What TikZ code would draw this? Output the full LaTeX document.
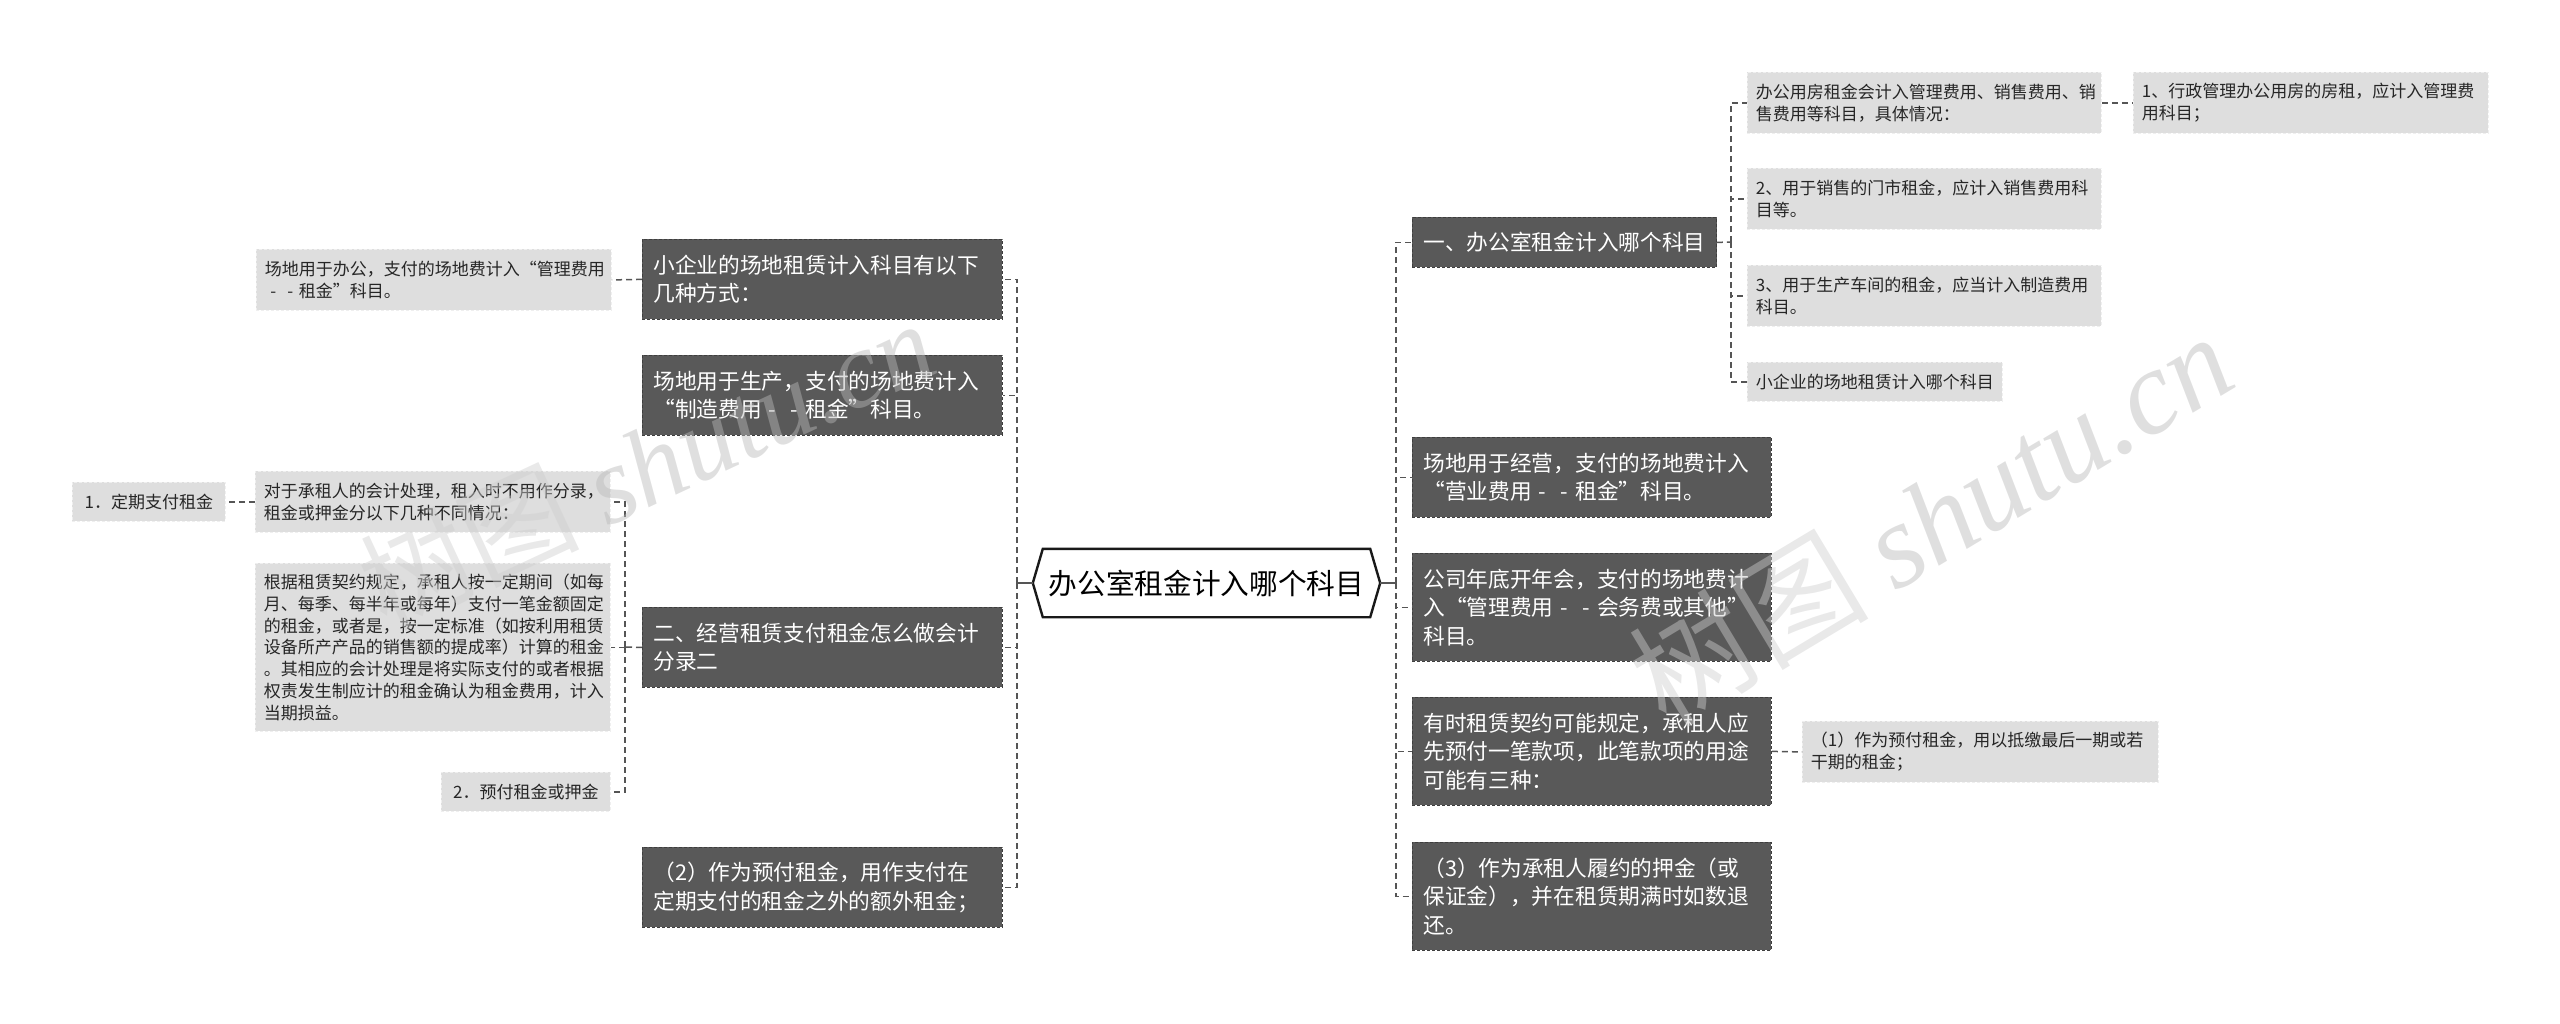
\documentclass[tikz,border=0pt]{standalone}
\usepackage{fontspec}
\setmainfont{Noto Sans CJK SC}
\newfontfamily\wmfont{Liberation Serif}
\usetikzlibrary{calc}
\definecolor{dkfill}{HTML}{595959}
\definecolor{dkedge}{HTML}{3F3F3F}
\definecolor{ltfill}{HTML}{DEDEDE}
\definecolor{ltedge}{HTML}{EFEFEF}
\definecolor{conncol}{HTML}{555555}
\definecolor{txt}{HTML}{262626}
\definecolor{wmcol}{HTML}{B9B9B9}
\newcommand{\fwdash}{\makebox[1em]{-}}
\tikzset{
  dark/.style={anchor=north west, fill=dkfill, draw=dkedge, line width=0.8pt, dash pattern=on 3pt off 2pt, text=white, inner xsep=11pt, inner ysep=0pt, font=\fontsize{21.7pt}{28.3pt}\selectfont, align=left},
  light/.style={anchor=north west, fill=ltfill, draw=ltedge, line width=0.8pt, dash pattern=on 3pt off 2pt, text=txt, inner xsep=8.5pt, inner ysep=0pt, font=\fontsize{17pt}{21.7pt}\selectfont, align=left},
  conn/.style={draw=conncol, line width=1.5pt, dash pattern=on 6pt off 4pt},
  stub/.style={draw=conncol, line width=1.5pt},
  wmark/.style={text=wmcol, opacity=0.45, inner sep=0pt}
}
\begin{document}
\begin{tikzpicture}[x=1pt,y=1pt]
\useasboundingbox (0,0) rectangle (2560,-1023);

% center
\node[font=\fontsize{28.7pt}{34pt}\selectfont, text=black, minimum width=347pt, minimum height=68pt, inner sep=0pt] (c) at (1206.5,-583) {办公室租金计入哪个科目};
\draw[line width=2.4pt, draw=black!90, line join=miter] (c.west) -- ([xshift=10pt]c.north west) -- ([xshift=-10pt]c.north east) -- (c.east) -- ([xshift=-10pt]c.south east) -- ([xshift=10pt]c.south west) -- cycle;

% left dark nodes
\node[dark, text width=338pt, minimum height=80pt] (n1) at (642,-239) {小企业的场地租赁计入科目有以下\\几种方式：};
\node[dark, text width=338pt, minimum height=80pt] (n2) at (642,-355) {场地用于生产，支付的场地费计入\\“制造费用\fwdash\fwdash 租金”科目。};
\node[dark, text width=338pt, minimum height=80pt] (n3) at (642,-607) {二、经营租赁支付租金怎么做会计\\分录二};
\node[dark, text width=338pt, minimum height=80pt] (n4) at (642,-847) {（2）作为预付租金，用作支付在\\定期支付的租金之外的额外租金；};

% left light nodes
\node[light, text width=338pt, minimum height=61pt] (l1) at (256,-249) {场地用于办公，支付的场地费计入“管理费用\\\fwdash\fwdash 租金”科目。};
\node[light, text width=338pt, minimum height=61pt] (l2) at (255,-471) {对于承租人的会计处理，租入时不用作分录，\\租金或押金分以下几种不同情况：};
\node[light, text width=338pt, minimum height=168pt] (l3) at (255,-563) {根据租赁契约规定，承租人按一定期间（如每\\月、每季、每半年或每年）支付一笔金额固定\\的租金，或者是，按一定标准（如按利用租赁\\设备所产产品的销售额的提成率）计算的租金\\。其相应的会计处理是将实际支付的或者根据\\权责发生制应计的租金确认为租金费用，计入\\当期损益。};
\node[light, minimum width=169pt, minimum height=39pt] (l4) at (441,-772) {2．预付租金或押金};
\node[light, minimum width=153pt, minimum height=39pt] (l0) at (72,-482) {1．定期支付租金};

% right dark nodes
\node[dark, minimum width=304pt, minimum height=50pt] (r1) at (1412,-217) {一、办公室租金计入哪个科目};
\node[dark, text width=337pt, minimum height=80pt] (r2) at (1412,-437) {场地用于经营，支付的场地费计入\\“营业费用\fwdash\fwdash 租金”科目。};
\node[dark, text width=337pt, minimum height=108pt] (r3) at (1412,-553) {公司年底开年会，支付的场地费计\\入“管理费用\fwdash\fwdash 会务费或其他”\\科目。};
\node[dark, text width=337pt, minimum height=108pt] (r4) at (1412,-697) {有时租赁契约可能规定，承租人应\\先预付一笔款项，此笔款项的用途\\可能有三种：};
\node[dark, text width=337pt, minimum height=108pt] (r5) at (1412,-842) {（3）作为承租人履约的押金（或\\保证金），并在租赁期满时如数退\\还。};

% right light nodes
\node[light, text width=337pt, minimum height=61pt] (rr1) at (1747,-72) {办公用房租金会计入管理费用、销售费用、销\\售费用等科目，具体情况：};
\node[light, text width=337pt, minimum height=61pt] (rr2) at (1747,-168) {2、用于销售的门市租金，应计入销售费用科\\目等。};
\node[light, text width=337pt, minimum height=61pt] (rr3) at (1747,-265) {3、用于生产车间的租金，应当计入制造费用\\科目。};
\node[light, minimum width=254pt, minimum height=39pt] (rr4) at (1747,-362) {小企业的场地租赁计入哪个科目};
\node[light, text width=338pt, minimum height=61pt] (rrr) at (2133,-72) {1、行政管理办公用房的房租，应计入管理费\\用科目；};
\node[light, text width=339pt, minimum height=61pt] (r41) at (1802,-721) {（1）作为预付租金，用以抵缴最后一期或若\\干期的租金；};

% connectors
\coordinate (lt) at (1017,-583);
\coordinate (rt) at (1396,-583);
\draw[stub] (c.west) -- (lt);
\draw[stub] (c.east) -- (rt);
\draw[conn] (lt) |- (n1.east);
\draw[conn] (lt) |- (n2.east);
\draw[conn] (lt) |- (n3.east);
\draw[conn] (lt) |- (n4.east);
\draw[conn] (rt) |- (r1.west);
\draw[conn] (rt) |- (r2.west);
\draw[conn] (rt) |- (r3.west);
\draw[conn] (rt) |- (r4.west);
\draw[conn] (rt) |- (r5.west);

\draw[conn] (n1.west) -- (l1.east);
\coordinate (t3) at (625,-647);
\draw[conn] (n3.west) -- (t3);
\draw[conn] (t3) |- (l2.east);
\draw[conn] (t3) |- (l3.east);
\draw[conn] (t3) |- (l4.east);
\draw[conn] (l2.west) -- (l0.east);

\coordinate (t1) at (1731,-242);
\draw[conn] (r1.east) -- (t1);
\draw[conn] (t1) |- (rr1.west);
\draw[conn] (t1) |- (rr2.west);
\draw[conn] (t1) |- (rr3.west);
\draw[conn] (t1) |- (rr4.west);
\draw[conn] (rr1.east) -- (rrr.west);
\draw[conn] (r4.east) -- (r41.west);

% watermarks
\node[wmark, rotate=25, font=\fontsize{110pt}{120pt}\selectfont] (wm1) at (646,-463) {{\color{wmcol!70!white}树图} {\wmfont\itshape shutu.cn}};
\node[wmark, rotate=31, font=\fontsize{120pt}{130pt}\selectfont] (wm2) at (1930,-518) {{\color{wmcol!70!white}树图} {\wmfont\itshape shutu.cn}};
\end{tikzpicture}
\end{document}
